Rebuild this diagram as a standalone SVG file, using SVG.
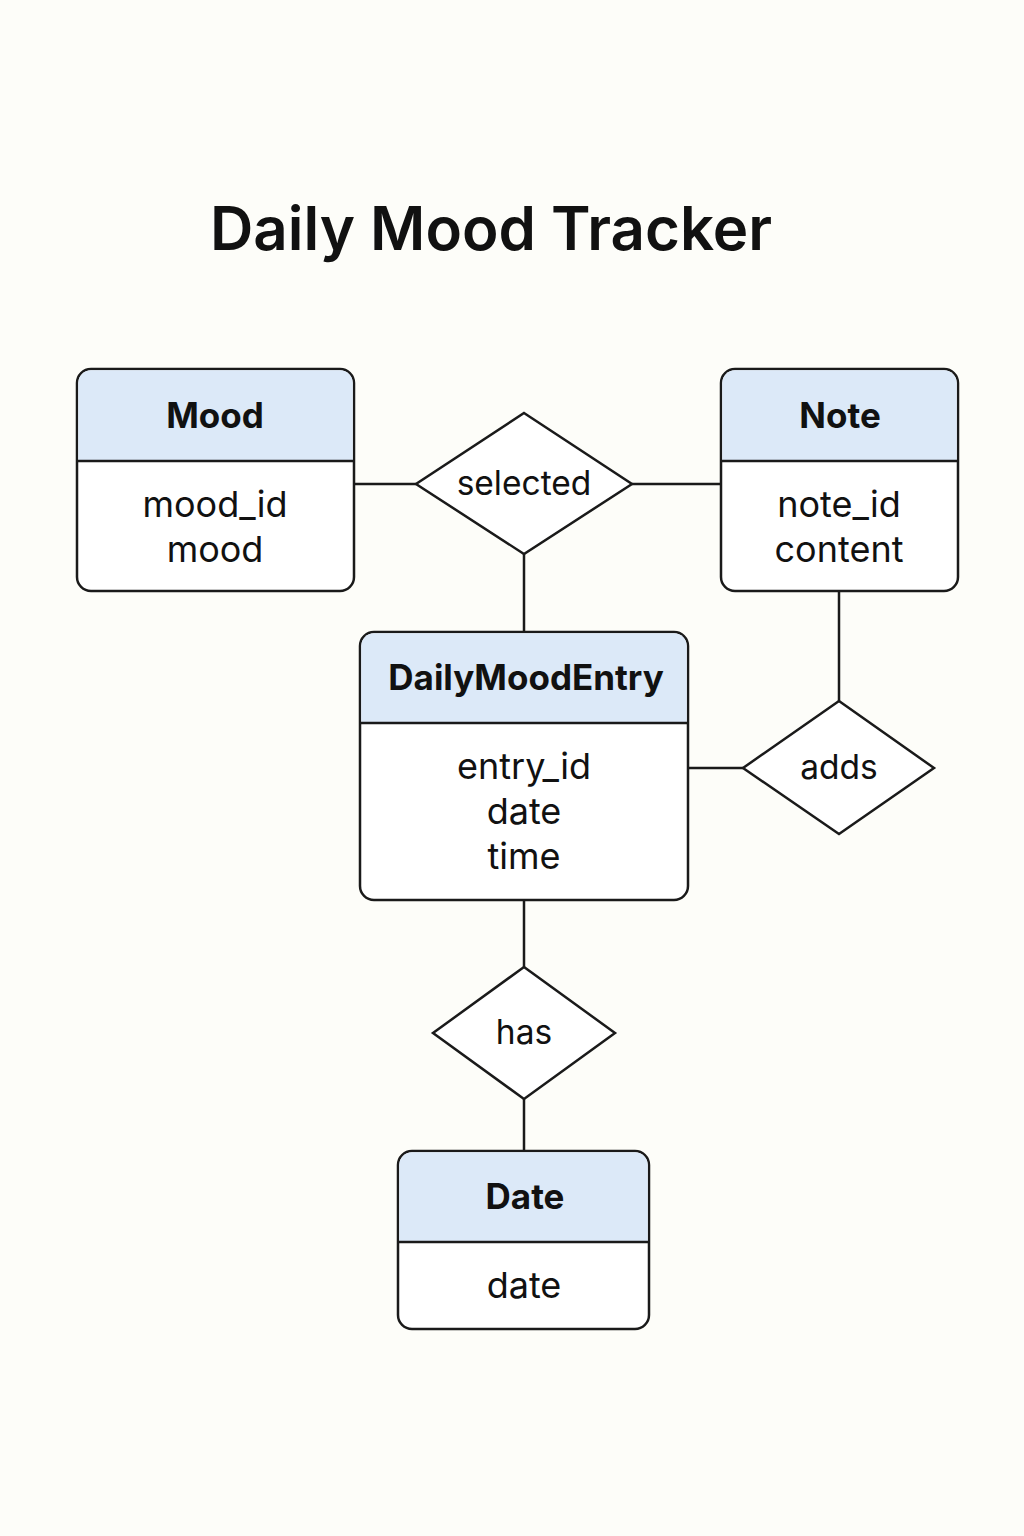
<svg xmlns="http://www.w3.org/2000/svg" width="1024" height="1536" viewBox="0 0 1024 1536">
<style>
.bg{fill:#fdfdf9}
.box{fill:#ffffff;stroke:#1a1a1a;stroke-width:2.5}
.hdr{fill:#dce9f8}
.sep{stroke:#1a1a1a;stroke-width:2.5}
.dia{fill:#ffffff;stroke:#1a1a1a;stroke-width:2.5}
.ln{stroke:#1a1a1a;stroke-width:2.5;fill:none}
.t{font-family:Inter,"Liberation Sans",sans-serif;fill:#111;text-anchor:middle}
.title{font-size:60px;font-weight:600}
.h{font-size:35px;font-weight:700}
.a{font-size:36px;font-weight:400}
.r{font-size:33.5px;font-weight:400}
</style>
<rect class="bg" x="0" y="0" width="1024" height="1536"/>
<text class="t title" x="491" y="250">Daily Mood Tracker</text>
<g id="connectors">
<line class="ln" x1="354" y1="484" x2="416" y2="484"/>
<line class="ln" x1="632" y1="484" x2="721" y2="484"/>
<line class="ln" x1="524" y1="554" x2="524" y2="632"/>
<line class="ln" x1="839" y1="591" x2="839" y2="701"/>
<line class="ln" x1="688" y1="768" x2="743" y2="768"/>
<line class="ln" x1="524" y1="900" x2="524" y2="967"/>
<line class="ln" x1="524" y1="1099" x2="524" y2="1151"/>
</g>
<g id="mood">
<rect class="box" x="77" y="369" width="277" height="222" rx="14"/>
<path class="hdr" d="M78.25 461 V383 a12.75 12.75 0 0 1 12.75 -12.75 H340 a12.75 12.75 0 0 1 12.75 12.75 V461 Z"/>
<line class="sep" x1="77" y1="461" x2="354" y2="461"/>
<text class="t h" x="215" y="428">Mood</text>
<text class="t a" x="215" y="517">mood_id</text>
<text class="t a" x="215" y="562">mood</text>
</g>
<g id="note">
<rect class="box" x="721" y="369" width="237" height="222" rx="14"/>
<path class="hdr" d="M722.25 461 V383 a12.75 12.75 0 0 1 12.75 -12.75 H944 a12.75 12.75 0 0 1 12.75 12.75 V461 Z"/>
<line class="sep" x1="721" y1="461" x2="958" y2="461"/>
<text class="t h" x="840" y="428">Note</text>
<text class="t a" x="839" y="517">note_id</text>
<text class="t a" x="839" y="562">content</text>
</g>
<g id="selected">
<polygon class="dia" points="524,413 632,484 524,554 416,484"/>
<text class="t r" x="524" y="495">selected</text>
</g>
<g id="dailymoodentry">
<rect class="box" x="360" y="632" width="328" height="268" rx="14"/>
<path class="hdr" d="M361.25 723 V646 a12.75 12.75 0 0 1 12.75 -12.75 H674 a12.75 12.75 0 0 1 12.75 12.75 V723 Z"/>
<line class="sep" x1="360" y1="723" x2="688" y2="723"/>
<text class="t h" x="526" y="690">DailyMoodEntry</text>
<text class="t a" x="524" y="779">entry_id</text>
<text class="t a" x="524" y="824">date</text>
<text class="t a" x="524" y="869">time</text>
</g>
<g id="adds">
<polygon class="dia" points="839,701 934,768 839,834 743,768"/>
<text class="t r" x="839" y="779">adds</text>
</g>
<g id="has">
<polygon class="dia" points="524,967 615,1033 524,1099 433,1033"/>
<text class="t r" x="524" y="1044">has</text>
</g>
<g id="date">
<rect class="box" x="398" y="1151" width="251" height="178" rx="14"/>
<path class="hdr" d="M399.25 1242 V1165 a12.75 12.75 0 0 1 12.75 -12.75 H635 a12.75 12.75 0 0 1 12.75 12.75 V1242 Z"/>
<line class="sep" x1="398" y1="1242" x2="649" y2="1242"/>
<text class="t h" x="525" y="1209">Date</text>
<text class="t a" x="524" y="1298">date</text>
</g>
</svg>
